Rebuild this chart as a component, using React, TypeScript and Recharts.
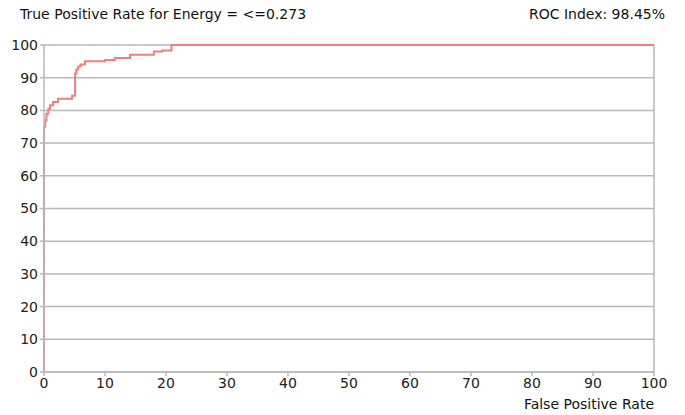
import React from 'react';
import { LineChart, Line, XAxis, YAxis, CartesianGrid, ReferenceLine } from 'recharts';

// ROC curve corners (percent)
const fpr = [0, 0, 0.2, 0.4, 0.7, 1.0, 1.5, 2.3, 4.3, 4.6, 5.1, 5.1, 5.3, 5.6, 6.0, 6.7, 9.5, 10.0, 11.6, 14.1, 17.5, 18.0, 19.4, 20.9, 100];
const tpr = [0, 75, 77, 79, 80.5, 81.6, 82.6, 83.6, 83.6, 84.5, 85.2, 91.3, 92.5, 93.4, 94, 95, 95, 95.4, 96, 97, 97, 98, 98.3, 100, 100];
const ticks = [0, 10, 20, 30, 40, 50, 60, 70, 80, 90, 100];

const data = fpr.map((x, i) => ({ x, y: tpr[i] }));

const font = '"DejaVu Sans", sans-serif';
const gridColor = '#b9b9b9';
const textStyle: React.CSSProperties = { position: 'absolute', fontSize: 14, lineHeight: '16px', color: '#111', zIndex: 2, whiteSpace: 'nowrap' };

const App: React.FC = () => {
  return (
    <div style={{ position: 'fixed', left: 0, top: 0, width: 685, height: 415, background: '#fff', fontFamily: font }}>
      <LineChart width={685} height={415} data={data} margin={{ top: 45, right: 31, bottom: 0, left: 0 }}>
        <CartesianGrid vertical={false} stroke={gridColor} strokeWidth={1.5} />
        <XAxis
          dataKey="x"
          type="number"
          domain={[0, 100]}
          ticks={ticks}
          height={43}
          stroke={gridColor}
          strokeWidth={1.5}
          tickSize={4}
          tick={{ fill: '#222', fontSize: 14, fontFamily: font }}
        />
        <YAxis
          type="number"
          domain={[0, 100]}
          ticks={ticks}
          width={44}
          stroke={gridColor}
          strokeWidth={1.5}
          tickSize={4}
          tick={{ fill: '#222', fontSize: 14, fontFamily: font }}
        />
        <ReferenceLine x={100} stroke={gridColor} strokeWidth={1.5} />
        <Line
          dataKey="y"
          type="stepAfter"
          stroke="#f07f7f"
          strokeWidth={2}
          dot={false}
          isAnimationActive={false}
        />
      </LineChart>
      <div style={{ ...textStyle, left: 20, top: 6 }}>True Positive Rate for Energy = &lt;=0.273</div>
      <div style={{ ...textStyle, right: 20, top: 6 }}>ROC Index: 98.45%</div>
      <div style={{ ...textStyle, right: 31, top: 396 }}>False Positive Rate</div>
    </div>
  );
};

export default App;
